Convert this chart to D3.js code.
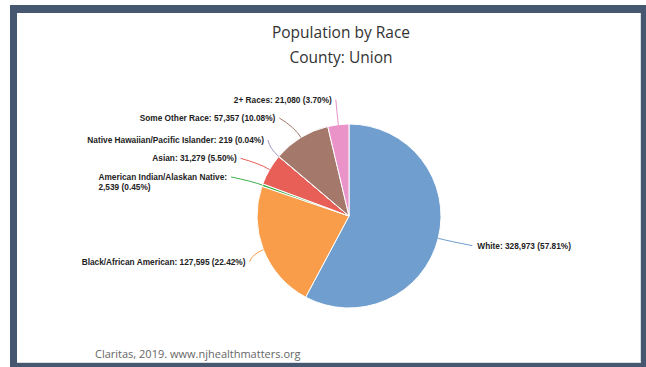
<!DOCTYPE html>
<html>
<head>
<meta charset="utf-8">
<script src="https://cdn.jsdelivr.net/npm/d3@7"></script>
<style>
  html, body { margin: 0; padding: 0; background: #ffffff; }
  svg { display: block; }
</style>
</head>
<body>
<svg id="chart" width="646" height="367"></svg>
<script>
// Population by race, Union County
const categories = [
  "White",
  "Black/African American",
  "American Indian/Alaskan Native",
  "Asian",
  "Native Hawaiian/Pacific Islander",
  "Some Other Race",
  "2+ Races"
];
const populations = [328973, 127595, 2539, 31279, 219, 57357, 21080];
const percents = [57.81, 22.42, 0.45, 5.50, 0.04, 10.08, 3.70];
const sliceColors = ["#709ecf", "#f99d4a", "#3fae4c", "#e85f58", "#a090c8", "#a4796b", "#ea93c9"];

const titleLines = ["Population by Race", "County: Union"];
const sourceNote = "Claritas, 2019. www.njhealthmatters.org";

const W = 646, H = 367;
const svg = d3.select("#chart");

// outer frame
svg.append("rect").attr("x", 10).attr("y", 5).attr("width", W - 10).attr("height", H - 5).attr("fill", "#46586f");
svg.append("rect").attr("x", 17).attr("y", 13).attr("width", 624).attr("height", 350).attr("fill", "#ffffff");
svg.append("line").attr("x1", 640.5).attr("x2", 640.5).attr("y1", 13).attr("y2", 363).attr("stroke", "#d8dde3");
svg.append("line").attr("x1", 17).attr("x2", 641).attr("y1", 362.5).attr("y2", 362.5).attr("stroke", "#d8dde3");

// titles
svg.selectAll("text.title").data(titleLines).join("text")
  .attr("class", "title")
  .attr("x", 341)
  .attr("y", (d, i) => 38 + i * 25)
  .attr("text-anchor", "middle")
  .attr("font-family", "'Open Sans', sans-serif")
  .attr("font-size", 15.5)
  .attr("fill", "#333333")
  .text(d => d);

// source line
svg.append("text")
  .attr("x", 95).attr("y", 358)
  .attr("font-family", "'Open Sans', sans-serif")
  .attr("font-size", 11)
  .attr("fill", "#666666")
  .text(sourceNote);

// pie
const cx = 349, cy = 216, r = 92;
const rows = categories.map((c, i) => ({ name: c, value: populations[i], pct: percents[i], color: sliceColors[i] }));
const pie = d3.pie().value(d => d.value).sort(null);
const arcs = pie(rows);
const arc = d3.arc().innerRadius(0).outerRadius(r);

const g = svg.append("g").attr("transform", `translate(${cx},${cy})`);
g.selectAll("path.slice").data(arcs).join("path")
  .attr("class", "slice")
  .attr("d", arc)
  .attr("fill", d => d.data.color)
  .attr("stroke", "#ffffff")
  .attr("stroke-width", 1)
  .attr("stroke-linejoin", "round");

// label placement: radial projection, with small per-label nudges to keep text apart
const labelRadius = r + 30;
const nudge = [[5, 0], [14, 1], [-3, 2], [-3, 4], [12, 3], [-6, 6], [1, 5]];
const fmt = d3.format(",");
const leftLimit = 75 - cx; // labels wrap rather than run past this x

const labels = arcs.map((a, i) => {
  const mid = (a.startAngle + a.endAngle) / 2;
  const ex = Math.sin(mid) * r, ey = -Math.cos(mid) * r;
  const kx = Math.sin(mid) * (r + 12), ky = -Math.cos(mid) * (r + 12);
  const lx = Math.sin(mid) * labelRadius + nudge[i][0];
  const ly = -Math.cos(mid) * labelRadius + nudge[i][1];
  const right = Math.sin(mid) > 0;
  return { a, ex, ey, kx, ky, lx, ly, right };
});

g.selectAll("path.connector").data(labels).join("path")
  .attr("class", "connector")
  .attr("d", d => `M${d.ex},${d.ey}Q${d.kx},${d.ky} ${d.lx},${d.ly}`)
  .attr("fill", "none")
  .attr("stroke", d => d.a.data.color)
  .attr("stroke-width", 1);

const labelFont = "'Liberation Sans', Arial, sans-serif";
const lt = g.selectAll("text.lbl").data(labels).join("text")
  .attr("class", "lbl")
  .attr("font-family", labelFont)
  .attr("font-size", 8.3)
  .attr("font-weight", "bold")
  .attr("fill", "#222222");

lt.each(function (d) {
  const t = d3.select(this);
  const head = d.a.data.name + ":";
  const tail = `${fmt(d.a.data.value)} (${d.a.data.pct.toFixed(2)}%)`;
  const one = t.append("tspan").text(head + " " + tail);
  let lines = [one];
  let w = one.node().getComputedTextLength();
  if (!d.right && d.lx - 4 - w < leftLimit) {
    // too wide: break after the colon
    one.text(head);
    const two = t.append("tspan").attr("dy", 10.5).text(tail);
    lines = [one, two];
    w = Math.max(one.node().getComputedTextLength(), two.node().getComputedTextLength());
  }
  const x0 = d.right ? d.lx + 5 : d.lx - 4 - w;
  const y0 = d.ly + 3;
  lines.forEach(s => s.attr("x", x0));
  t.attr("y", y0);
  lines[0].attr("y", y0);
});
</script>
</body>
</html>
